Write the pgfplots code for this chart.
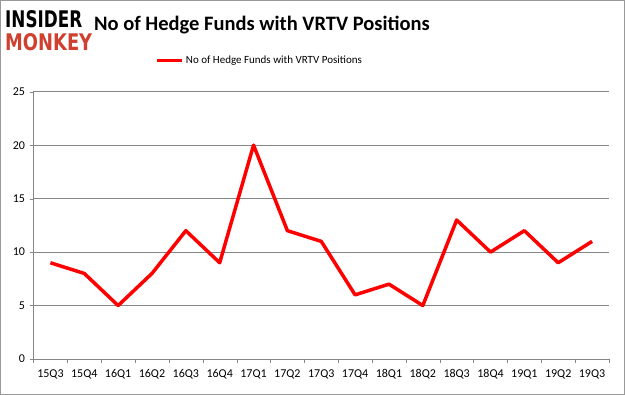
\documentclass[border=0pt]{standalone}
\usepackage{pgfplots}
\pgfplotsset{compat=1.18}
\usepackage{graphicx}
\usepackage{fontspec}
\setmainfont{Carlito}
\newfontfamily\logofont{DejaVu Sans}
\definecolor{gridgray}{RGB}{134,134,134}
\definecolor{monkeyred}{RGB}{208,64,48}
\begin{document}
\begin{tikzpicture}
\useasboundingbox (0pt,0pt) rectangle (625pt,-395pt);
\draw[gray!80, line width=1pt] (0.5pt,-0.5pt) rectangle (624.5pt,-394.5pt);
\node[anchor=north west, inner sep=0pt] at (5pt,-10pt) {\resizebox{77pt}{17pt}{\logofont\bfseries INSIDER}};
\node[anchor=north west, inner sep=0pt, text=monkeyred] at (5pt,-33pt) {\resizebox{87pt}{17pt}{\logofont\bfseries MONKEY}};
\node[font=\bfseries\fontsize{20.5}{20.5}\selectfont, inner sep=0pt] at (262pt,-25pt) {No of Hedge Funds with VRTV Positions};
\begin{axis}[
  at={(33.5pt,-359pt)}, anchor=south west,
  width=575.5pt, height=267.3pt, scale only axis,
  xmin=-0.5, xmax=16.5, ymin=0, ymax=25,
  xtick={0,...,16},
  xticklabels={15Q3,15Q4,16Q1,16Q2,16Q3,16Q4,17Q1,17Q2,17Q3,17Q4,18Q1,18Q2,18Q3,18Q4,19Q1,19Q2,19Q3},
  minor xtick={-0.5,0.5,...,16.5},
  major x tick style={draw=none},
  minor x tick style={draw=gridgray},
  ytick={0,5,...,25},
  ymajorgrids, grid style={gridgray, line width=0.6pt},
  axis x line*=bottom, axis y line*=left,
  x axis line style={-, draw=gridgray, line width=0.8pt},
  y axis line style={-, draw=gridgray, line width=0.8pt},
  y tick style={draw=gridgray},
  tick align=outside, minor tick length=4pt, major tick length=4pt,
  tick label style={font=\fontsize{12}{12}\selectfont},
  /pgf/number format/assume math mode=true,
  xticklabel style={yshift=-3pt},
  yticklabel style={xshift=-1pt},
  legend style={at={(0.393,1.0)}, yshift=31pt, anchor=center, draw=none, fill=none, font=\fontsize{11}{11}\selectfont, legend columns=1},
  legend image code/.code={\draw[#1, line width=3.5pt] (0,0) -- (0.88cm,0);},
  clip=false,
]
\addplot[red, line width=3.5pt, line join=round] coordinates {
(0,9)(1,8)(2,5)(3,8)(4,12)(5,9)(6,20)(7,12)(8,11)(9,6)(10,7)(11,5)(12,13)(13,10)(14,12)(15,9)(16,11)};
\addlegendentry{No of Hedge Funds with VRTV Positions}
\end{axis}
\end{tikzpicture}
\end{document}
